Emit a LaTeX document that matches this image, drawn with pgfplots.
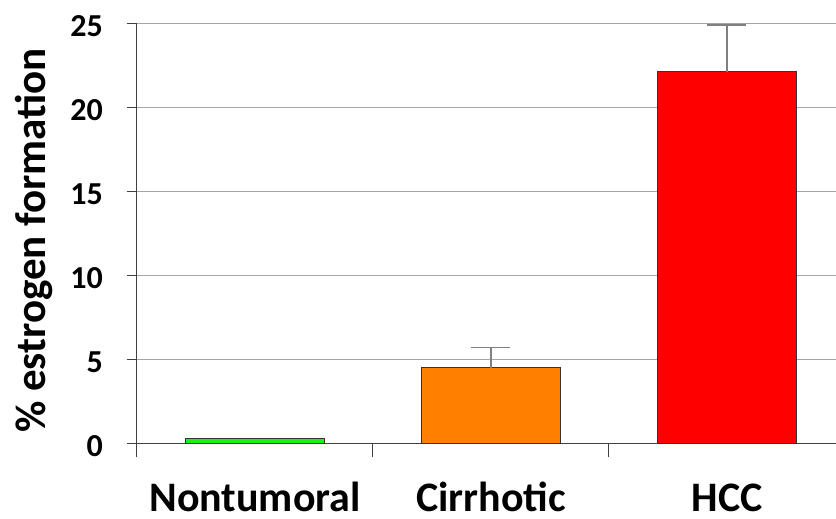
\documentclass[border=0pt]{standalone}
\usepackage{pgfplots}
\pgfplotsset{compat=1.18}
\usepackage{fontspec}
\setmainfont{Carlito}
\definecolor{barGreen}{RGB}{20,245,20}
\definecolor{barOrange}{RGB}{255,128,0}
\definecolor{barRed}{RGB}{255,0,0}
\begin{document}
\begin{tikzpicture}
\path[use as bounding box] (-137bp,-75.7bp) rectangle (699bp,443.3bp);
\begin{axis}[
  at={(0,0)}, anchor=south west,
  scale only axis, width=699bp, height=420bp,
  xmin=-0.5, xmax=2.462, ymin=0, ymax=25,
  axis lines=left,
  axis line style={-, draw=black!75, line width=1bp},
  clip=false,
  ytick={0,5,10,15,20,25},
  ymajorgrids,
  major grid style={draw=black!35, line width=1bp},
  xtick={0,1,2},
  xticklabels={Nontumoral,Cirrhotic,HCC},
  every major x tick/.append style={draw=none},
  minor xtick={-0.5,0.5,1.5},
  tick align=outside,
  major tick length=10bp,
  minor tick length=14bp,
  tick style={draw=black!75, line width=1bp},
  /pgf/number format/assume math mode=true,
  yticklabel style={font=\fontsize{32bp}{36bp}\selectfont\bfseries, anchor=east, inner sep=0pt, xshift=-24bp, yshift=-3bp},
  xticklabel style={font=\fontsize{42bp}{46bp}\selectfont\bfseries, anchor=base, inner sep=0pt, yshift=-58bp},
  ylabel={\% estrogen formation},
  ylabel style={font=\fontsize{43bp}{46bp}\selectfont\bfseries, at={(axis description cs:-0.147,0.483)}, anchor=center},
]
\addplot[ybar, bar shift=0pt, bar width=0.593, fill=barGreen, draw=black!80, line width=1bp]
  coordinates {(0,0.3)};
\addplot[ybar, bar shift=0pt, bar width=0.593, fill=barOrange, draw=black!80, line width=1bp,
  error bars/.cd, y dir=plus, y explicit,
  error bar style={line width=1.3bp, draw=black!50},
  error mark options={rotate=90, mark size=19.5bp, line width=1.3bp, draw=black!50}]
  coordinates {(1,4.5) +- (0,1.19)};
\addplot[ybar, bar shift=0pt, bar width=0.593, fill=barRed, draw=black!80, line width=1bp,
  error bars/.cd, y dir=plus, y explicit,
  error bar style={line width=1.3bp, draw=black!50},
  error mark options={rotate=90, mark size=19.5bp, line width=1.3bp, draw=black!50}]
  coordinates {(2,22.12) +- (0,2.78)};
\end{axis}
\end{tikzpicture}
\end{document}
